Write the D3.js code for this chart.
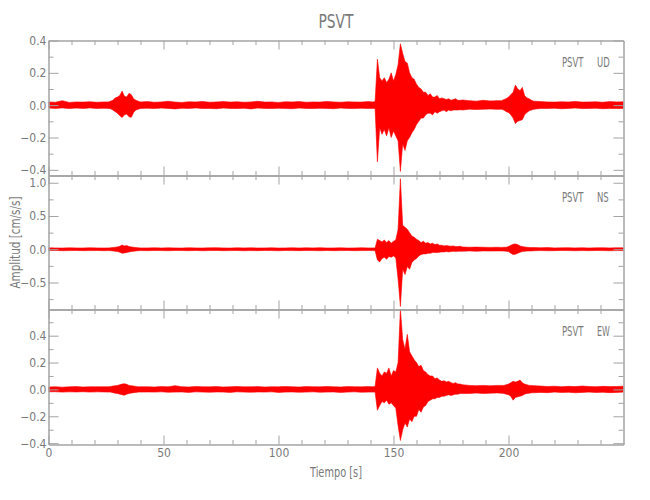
<!DOCTYPE html>
<html><head><meta charset="utf-8">
<script src="https://cdn.jsdelivr.net/npm/d3@7"></script>
<style>body{margin:0;background:#fff}</style>
</head><body>
<svg id="c" width="650" height="500"></svg>
<script>
// ---------- DATA (envelope max/min of the trace per time bin) ----------
const station = "PSVT";
const components = ["UD", "NS", "EW"];
const time = [
  0,3,6,9,12,15,18,21,24,
  26,27,28,29,30,31,32,33,34,35,36,37,38,39,40,
  43,46,49,52,55,58,61,64,67,70,73,76,79,82,85,88,91,94,97,100,103,106,109,112,115,118,121,124,127,130,133,136,139,
  141,142,143,144,145,146,147,148,149,150,151,152,153,154,155,156,157,158,159,160,
  161,162,163,164,165,166,167,168,169,170,171,172,173,174,175,176,177,178,179,180,
  183,186,189,192,195,
  197,198,199,200,201,202,203,204,205,206,207,208,209,210,211,
  214,217,220,223,226,229,232,235,238,241,244,247,250
];
const udUpper = [
  0.02,0.018,0.028,0.017,0.02,0.019,0.021,0.018,0.02,
  0.02,0.025,0.03,0.045,0.05,0.06,0.087,0.055,0.05,0.073,0.065,0.04,0.03,0.025,0.02,
  0.022,0.018,0.02,0.024,0.019,0.017,0.021,0.02,0.023,0.018,0.02,0.022,0.019,0.021,0.018,0.02,0.024,0.019,0.02,0.017,0.021,0.02,0.022,0.018,0.02,0.019,0.023,0.02,0.018,0.021,0.02,0.019,0.022,
  0.02,0.022,0.284,0.17,0.15,0.17,0.14,0.16,0.2,0.15,0.19,0.25,0.38,0.32,0.27,0.26,0.2,0.17,0.16,0.13,
  0.11,0.1,0.08,0.08,0.06,0.07,0.05,0.05,0.06,0.04,0.045,0.04,0.035,0.04,0.03,0.035,0.04,0.03,0.03,0.032,
  0.028,0.025,0.03,0.026,0.028,
  0.028,0.035,0.04,0.05,0.065,0.08,0.124,0.1,0.09,0.11,0.06,0.045,0.04,0.03,0.025,
  0.022,0.02,0.019,0.021,0.02,0.023,0.019,0.02,0.021,0.018,0.022,0.02,0.021
];
const udLower = [
  -0.018,-0.02,-0.017,-0.021,-0.018,-0.02,-0.017,-0.02,-0.019,
  -0.02,-0.022,-0.03,-0.04,-0.05,-0.065,-0.077,-0.06,-0.055,-0.072,-0.075,-0.045,-0.03,-0.025,-0.02,
  -0.019,-0.021,-0.018,-0.02,-0.023,-0.019,-0.02,-0.017,-0.021,-0.02,-0.022,-0.018,-0.02,-0.021,-0.019,-0.023,-0.018,-0.02,-0.021,-0.019,-0.02,-0.022,-0.018,-0.02,-0.021,-0.019,-0.02,-0.022,-0.018,-0.02,-0.021,-0.019,-0.02,
  -0.02,-0.02,-0.35,-0.14,-0.18,-0.15,-0.19,-0.14,-0.2,-0.16,-0.19,-0.22,-0.41,-0.24,-0.28,-0.22,-0.2,-0.17,-0.15,-0.12,
  -0.1,-0.08,-0.08,-0.06,-0.05,-0.05,-0.06,-0.04,-0.05,-0.04,-0.035,-0.03,-0.04,-0.03,-0.035,-0.03,-0.03,-0.03,-0.028,-0.03,
  -0.025,-0.027,-0.025,-0.024,-0.026,
  -0.025,-0.03,-0.04,-0.045,-0.06,-0.08,-0.114,-0.1,-0.095,-0.09,-0.06,-0.045,-0.035,-0.03,-0.025,
  -0.02,-0.021,-0.019,-0.022,-0.02,-0.018,-0.021,-0.02,-0.019,-0.022,-0.02,-0.021,-0.02
];
const nsUpper = [
  0.022,0.02,0.018,0.021,0.02,0.019,0.022,0.02,0.019,
  0.02,0.022,0.025,0.03,0.035,0.045,0.064,0.05,0.055,0.04,0.035,0.03,0.025,0.022,0.02,
  0.02,0.022,0.019,0.021,0.02,0.018,0.022,0.02,0.019,0.021,0.023,0.02,0.018,0.021,0.02,0.022,0.019,0.02,0.021,0.018,0.02,0.022,0.019,0.021,0.02,0.023,0.019,0.02,0.021,0.018,0.02,0.022,0.02,
  0.02,0.02,0.15,0.13,0.11,0.14,0.1,0.13,0.09,0.12,0.14,0.3,1.06,0.36,0.33,0.3,0.25,0.2,0.18,0.15,
  0.13,0.1,0.12,0.09,0.1,0.08,0.09,0.07,0.08,0.06,0.06,0.05,0.055,0.05,0.045,0.05,0.04,0.04,0.045,0.035,
  0.03,0.032,0.03,0.028,0.03,
  0.028,0.03,0.03,0.04,0.06,0.075,0.08,0.07,0.05,0.04,0.035,0.03,0.028,0.025,0.025,
  0.022,0.025,0.02,0.021,0.023,0.02,0.022,0.019,0.021,0.023,0.02,0.022,0.021
];
const nsLower = [
  -0.02,-0.019,-0.021,-0.02,-0.018,-0.021,-0.02,-0.019,-0.021,
  -0.02,-0.021,-0.025,-0.03,-0.035,-0.045,-0.06,-0.055,-0.05,-0.04,-0.035,-0.03,-0.025,-0.021,-0.02,
  -0.021,-0.019,-0.02,-0.022,-0.018,-0.02,-0.021,-0.019,-0.022,-0.02,-0.018,-0.021,-0.02,-0.019,-0.022,-0.02,-0.021,-0.018,-0.02,-0.022,-0.019,-0.02,-0.021,-0.018,-0.02,-0.022,-0.019,-0.021,-0.02,-0.018,-0.021,-0.02,-0.019,
  -0.02,-0.022,-0.16,-0.19,-0.14,-0.12,-0.15,-0.11,-0.12,-0.1,-0.13,-0.45,-0.86,-0.3,-0.38,-0.26,-0.3,-0.2,-0.16,-0.14,
  -0.1,-0.08,-0.07,-0.07,-0.06,-0.06,-0.05,-0.05,-0.05,-0.045,-0.04,-0.04,-0.035,-0.04,-0.035,-0.03,-0.035,-0.03,-0.03,-0.03,
  -0.025,-0.03,-0.025,-0.027,-0.025,
  -0.025,-0.028,-0.03,-0.035,-0.06,-0.08,-0.075,-0.06,-0.045,-0.035,-0.03,-0.028,-0.025,-0.025,-0.022,
  -0.02,-0.022,-0.021,-0.019,-0.02,-0.022,-0.02,-0.021,-0.019,-0.02,-0.022,-0.02,-0.021
];
const ewUpper = [
  0.018,0.02,0.017,0.019,0.021,0.018,0.02,0.019,0.02,
  0.02,0.022,0.025,0.028,0.03,0.035,0.04,0.042,0.038,0.03,0.028,0.025,0.022,0.02,0.02,
  0.02,0.018,0.021,0.019,0.028,0.02,0.018,0.022,0.02,0.019,0.021,0.018,0.02,0.022,0.019,0.02,0.021,0.018,0.02,0.019,0.022,0.02,0.018,0.021,0.02,0.019,0.022,0.02,0.018,0.021,0.02,0.019,0.021,
  0.02,0.022,0.16,0.12,0.1,0.13,0.12,0.16,0.1,0.14,0.13,0.2,0.6,0.37,0.3,0.41,0.28,0.25,0.22,0.2,
  0.17,0.18,0.14,0.13,0.11,0.1,0.1,0.08,0.085,0.07,0.06,0.065,0.055,0.06,0.05,0.045,0.05,0.04,0.04,0.035,
  0.03,0.028,0.03,0.027,0.03,
  0.03,0.03,0.035,0.04,0.05,0.06,0.055,0.06,0.07,0.05,0.04,0.035,0.03,0.03,0.028,
  0.025,0.022,0.024,0.02,0.023,0.021,0.025,0.022,0.02,0.023,0.021,0.022,0.024
];
const ewLower = [
  -0.018,-0.017,-0.02,-0.018,-0.019,-0.017,-0.02,-0.018,-0.019,
  -0.02,-0.02,-0.024,-0.028,-0.03,-0.035,-0.04,-0.043,-0.035,-0.03,-0.027,-0.024,-0.022,-0.02,-0.02,
  -0.019,-0.02,-0.018,-0.021,-0.02,-0.019,-0.022,-0.018,-0.02,-0.021,-0.019,-0.02,-0.022,-0.018,-0.02,-0.021,-0.019,-0.02,-0.018,-0.022,-0.02,-0.019,-0.021,-0.02,-0.018,-0.021,-0.02,-0.019,-0.022,-0.02,-0.018,-0.021,-0.02,
  -0.02,-0.02,-0.155,-0.12,-0.09,-0.1,-0.08,-0.11,-0.1,-0.12,-0.14,-0.27,-0.38,-0.3,-0.25,-0.28,-0.22,-0.24,-0.2,-0.2,
  -0.15,-0.17,-0.13,-0.12,-0.09,-0.08,-0.07,-0.07,-0.06,-0.06,-0.05,-0.05,-0.045,-0.04,-0.045,-0.04,-0.035,-0.035,-0.03,-0.03,
  -0.03,-0.027,-0.03,-0.028,-0.026,
  -0.028,-0.03,-0.035,-0.04,-0.05,-0.08,-0.06,-0.055,-0.05,-0.045,-0.035,-0.03,-0.028,-0.025,-0.025,
  -0.022,-0.024,-0.02,-0.023,-0.021,-0.025,-0.022,-0.02,-0.023,-0.021,-0.024,-0.022,-0.02
];
const xMajorTicks = [0, 50, 100, 150, 200];
const xMinorTicks = [10,20,30,40,60,70,80,90,110,120,130,140,160,170,180,190,210,220,230,240];
const yDomains = [[-0.435, 0.4], [-0.906, 1.109], [-0.41, 0.595]];
const yMajorTicks = [[-0.4,-0.2,0,0.2,0.4], [-0.5,0,0.5,1.0], [-0.4,-0.2,0,0.2,0.4]];
const yMinorTicks = [[-0.3,-0.1,0.1,0.3], [-0.75,-0.25,0.25,0.75], [-0.3,-0.1,0.1,0.3,0.5]];
const uppers = [udUpper, nsUpper, ewUpper];
const lowers = [udLower, nsLower, ewLower];

// ---------- DRAWING ----------
const svg = d3.select("#c");
const FONT = "'Liberation Sans Narrow','DejaVu Sans Condensed','Liberation Sans',sans-serif";
const AX = "#a3a3a3", TX = "#7a7a7a";
const x = d3.scaleLinear().domain([0, 250]).range([48.5, 623.5]);
const tops = [40.5, 175.5, 309.5], bottoms = [175.5, 309.5, 444.5];
const fmt = d3.format(".1f");

function styleAxis(g) {
  g.selectAll("path.domain").attr("stroke", AX).attr("stroke-width", 1);
  g.selectAll(".tick line").attr("stroke", AX).attr("stroke-width", 1);
  g.selectAll("text").attr("fill", TX).attr("font-family", FONT).attr("font-size", 12);
}

components.forEach((comp, i) => {
  const y = d3.scaleLinear().domain(yDomains[i]).range([bottoms[i], tops[i]]);
  const data = time.map((t, k) => ({t, hi: uppers[i][k], lo: lowers[i][k]}));
  if (uppers[i].length !== time.length || lowers[i].length !== time.length) console.error("length mismatch", comp);

  svg.append("clipPath").attr("id", "clip" + i)
    .append("rect").attr("x", x(0)).attr("y", tops[i]).attr("width", x(250) - x(0)).attr("height", bottoms[i] - tops[i]);

  const area = d3.area().x(d => x(d.t)).y0(d => y(d.lo)).y1(d => y(d.hi)).curve(d3.curveLinear);
  svg.append("path").datum(data).attr("clip-path", `url(#clip${i})`)
    .attr("d", area).attr("fill", "#ff0000").attr("stroke", "#ff0000").attr("stroke-width", 0.6)
    .attr("stroke-linejoin", "miter");

  // axes
  const gb = svg.append("g").attr("transform", `translate(0,${bottoms[i]})`)
    .call(d3.axisBottom(x).tickValues(xMajorTicks).tickSizeInner(-9).tickSizeOuter(0).tickPadding(4)
      .tickFormat(i === 2 ? d3.format("d") : () => ""));
  styleAxis(gb);
  const gbm = svg.append("g").attr("transform", `translate(0,${bottoms[i]})`)
    .call(d3.axisBottom(x).tickValues(xMinorTicks).tickSizeInner(-4.5).tickSizeOuter(0).tickFormat(() => ""));
  styleAxis(gbm);
  const gt = svg.append("g").attr("transform", `translate(0,${tops[i]})`)
    .call(d3.axisTop(x).tickValues(xMajorTicks).tickSizeInner(-9).tickSizeOuter(0).tickFormat(() => ""));
  styleAxis(gt);
  const gtm = svg.append("g").attr("transform", `translate(0,${tops[i]})`)
    .call(d3.axisTop(x).tickValues(xMinorTicks).tickSizeInner(-4.5).tickSizeOuter(0).tickFormat(() => ""));
  styleAxis(gtm);

  const gl = svg.append("g").attr("transform", `translate(${x(0)},0)`)
    .call(d3.axisLeft(y).tickValues(yMajorTicks[i]).tickSizeInner(-10).tickSizeOuter(0).tickPadding(2).tickFormat(fmt));
  styleAxis(gl);
  const glm = svg.append("g").attr("transform", `translate(${x(0)},0)`)
    .call(d3.axisLeft(y).tickValues(yMinorTicks[i]).tickSizeInner(-5).tickSizeOuter(0).tickFormat(() => ""));
  styleAxis(glm);
  const gr = svg.append("g").attr("transform", `translate(${x(250)},0)`)
    .call(d3.axisRight(y).tickValues(yMajorTicks[i]).tickSizeInner(-10).tickSizeOuter(0).tickFormat(() => ""));
  styleAxis(gr);
  const grm = svg.append("g").attr("transform", `translate(${x(250)},0)`)
    .call(d3.axisRight(y).tickValues(yMinorTicks[i]).tickSizeInner(-5).tickSizeOuter(0).tickFormat(() => ""));
  styleAxis(grm);

  // panel labels
  svg.append("text").attr("x", 562).attr("y", tops[i] + 26).text(station)
    .attr("font-family", FONT).attr("font-size", 14).attr("fill", TX)
    .attr("textLength", 21.5).attr("lengthAdjust", "spacingAndGlyphs");
  svg.append("text").attr("x", 597).attr("y", tops[i] + 26).text(comp)
    .attr("font-family", FONT).attr("font-size", 14).attr("fill", TX)
    .attr("textLength", comp === "NS" ? 11.7 : 12.7).attr("lengthAdjust", "spacingAndGlyphs");
});

// title and axis titles
svg.append("text").attr("x", 336).attr("y", 28).attr("text-anchor", "middle").text(station)
  .attr("font-family", FONT).attr("font-size", 20).attr("fill", TX)
  .attr("textLength", 35).attr("lengthAdjust", "spacingAndGlyphs");
svg.append("text").attr("x", 336).attr("y", 476.5).attr("text-anchor", "middle").text("Tiempo [s]")
  .attr("font-family", FONT).attr("font-size", 14).attr("fill", TX)
  .attr("textLength", 52).attr("lengthAdjust", "spacingAndGlyphs");
svg.append("text").attr("transform", "translate(19.5,242.5) rotate(-90)").attr("text-anchor", "middle")
  .text("Amplitud [cm/s/s]")
  .attr("font-family", FONT).attr("font-size", 14).attr("fill", TX)
  .attr("textLength", 92).attr("lengthAdjust", "spacingAndGlyphs");
</script>
</body></html>
